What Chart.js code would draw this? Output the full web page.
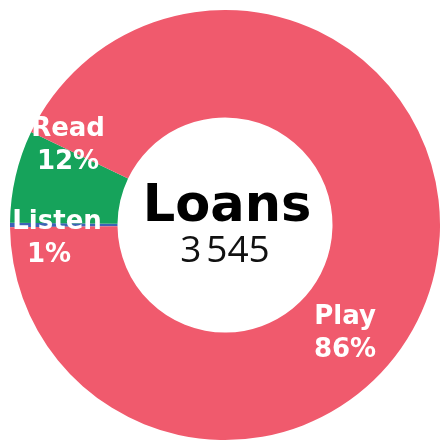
<!DOCTYPE html>
<html>
<head>
<meta charset="utf-8">
<style>
  html, body { margin: 0; padding: 0; background: #ffffff; }
  #c { display: block; }
</style>
<script src="https://cdn.jsdelivr.net/npm/chart.js@4.4.1/dist/chart.umd.min.js"></script>
</head>
<body>
<canvas id="c" width="440" height="441"></canvas>
<script>
// ---- data ----
const categories = ['Listen', 'Read', 'Play'];
const loans = [12, 246, 3287];                // slice sizes as drawn
const shareLabels = ['1%', '12%', '86%'];     // percentages printed on the slices
const centerTitle = 'Loans';
const centerTotal = '3\u202F545';
const sliceColors = ['#3d63b6', '#16a35b', '#f05a6d'];

// label placement (polar, relative to doughnut centre): degrees clockwise from 3 o'clock, fraction of outer radius
const labelPlacement = [
  { angle: 176.5, radius: 0.792 },
  { angle: 207.9, radius: 0.826 },
  { angle: 41.2,  radius: 0.742 }
];

const LABEL_FONT = 'bold 26px "DejaVu Sans", sans-serif';

const sliceLabelPlugin = {
  id: 'sliceLabels',
  afterDatasetsDraw(chart) {
    const ctx = chart.ctx;
    const meta = chart.getDatasetMeta(0);
    ctx.save();
    ctx.fillStyle = '#ffffff';
    ctx.font = LABEL_FONT;
    ctx.textAlign = 'center';
    ctx.textBaseline = 'alphabetic';
    meta.data.forEach((arc, i) => {
      const p = labelPlacement[i];
      const a = p.angle * Math.PI / 180;
      const r = arc.outerRadius * p.radius;
      const cx = arc.x + r * Math.cos(a);
      const cy = arc.y + r * Math.sin(a);
      ctx.fillText(categories[i], cx + (i === 0 ? 2 : 0), cy - 6);
      ctx.fillText(shareLabels[i], cx - (i === 0 ? 6 : 0), cy + 27);
    });
    ctx.restore();
  }
};

const centerTextPlugin = {
  id: 'centerText',
  afterDraw(chart) {
    const ctx = chart.ctx;
    const arc = chart.getDatasetMeta(0).data[0];
    const x = arc.x, y = arc.y;
    ctx.save();
    ctx.textAlign = 'center';
    ctx.textBaseline = 'alphabetic';
    ctx.fillStyle = '#000000';
    ctx.font = 'bold 51px "DejaVu Sans", sans-serif';
    ctx.fillText(centerTitle, x + 2, y - 4);
    ctx.fillStyle = '#111111';
    ctx.font = '400 37px "Open Sans", sans-serif';
    ctx.fillText(centerTotal, x, y + 37);
    ctx.restore();
  }
};

new Chart(document.getElementById('c'), {
  type: 'doughnut',
  data: {
    labels: categories,
    datasets: [{
      data: loans,
      backgroundColor: sliceColors,
      borderWidth: 0,
      hoverOffset: 0,
      offset: 0
    }]
  },
  options: {
    responsive: false,
    animation: false,
    cutout: '50%',
    rotation: 269.4,
    spacing: 0,
    layout: { padding: { left: 10, top: 10, right: 0, bottom: 1 } },
    plugins: {
      legend: { display: false },
      tooltip: { enabled: false }
    }
  },
  plugins: [sliceLabelPlugin, centerTextPlugin]
});
</script>
</body>
</html>
